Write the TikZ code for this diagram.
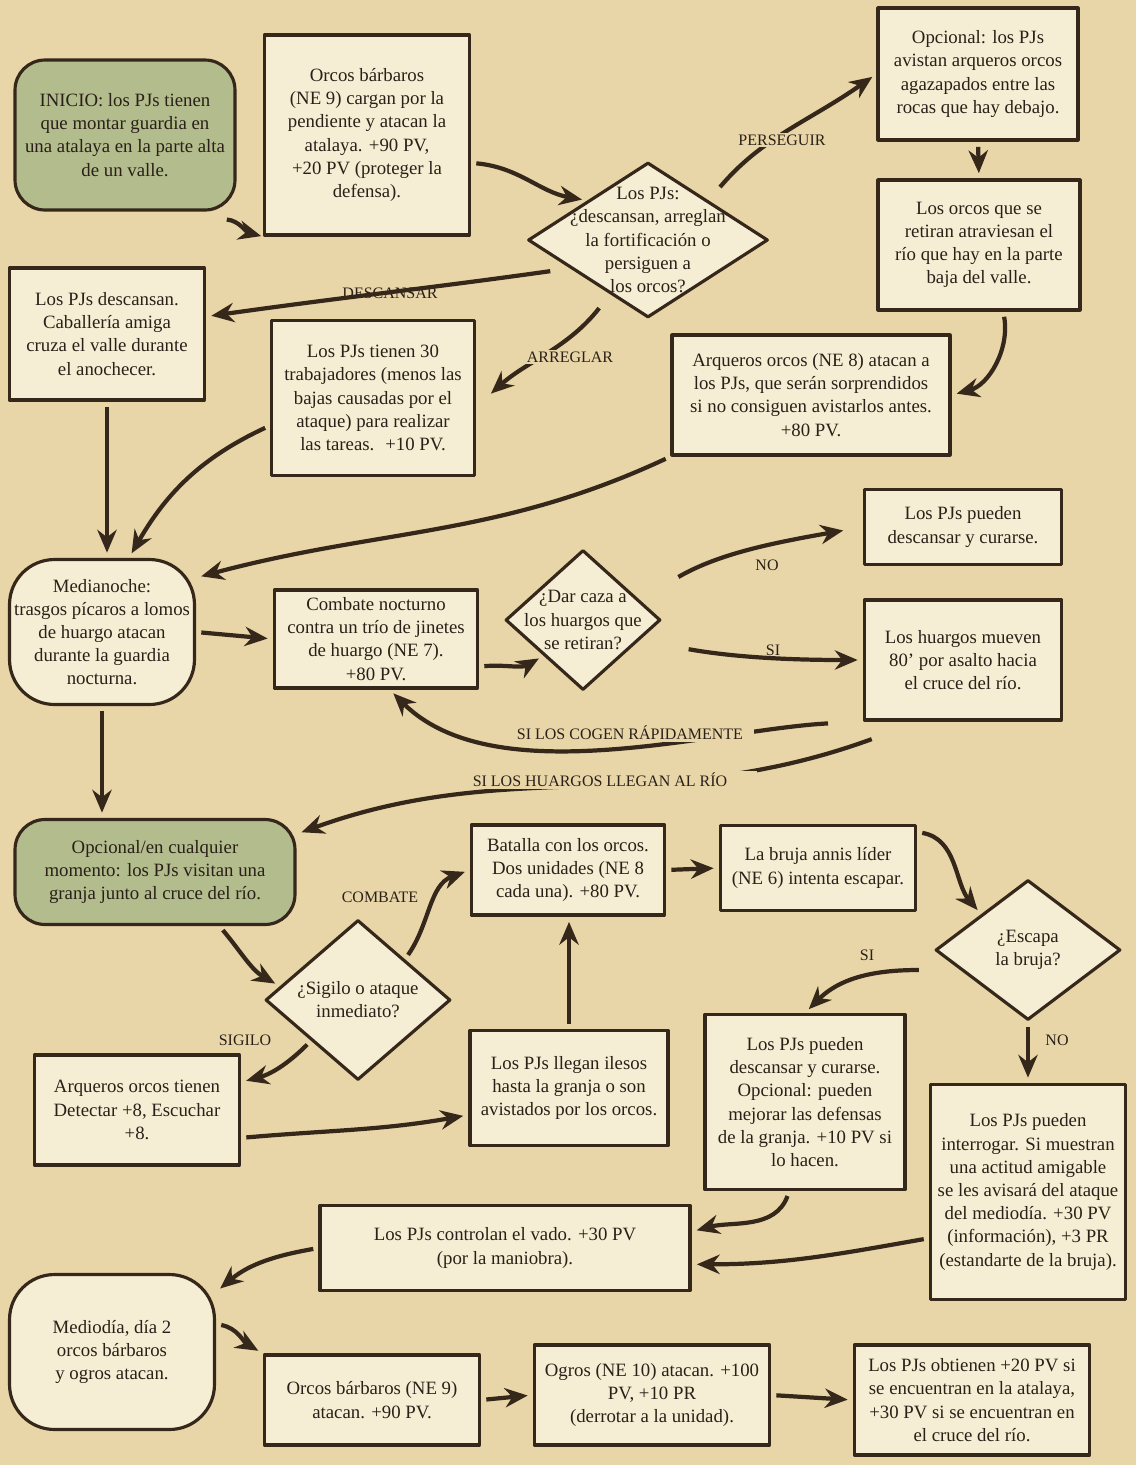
\documentclass[tikz,border=0pt]{standalone}
\usepackage{fontspec}
\setmainfont{Liberation Serif}
\usetikzlibrary{shapes.geometric,arrows.meta}
\definecolor{parch}{HTML}{E8D6A9}
\definecolor{paper}{HTML}{F6EED4}
\definecolor{sage}{HTML}{B3BC8D}
\definecolor{edge}{HTML}{35281B}
\definecolor{ink}{HTML}{2A2018}
\begin{document}
\begin{tikzpicture}[x=0.02cm, y=0.02cm, line join=round,
    every node/.style={font=\fontsize{10.7}{13.2}\selectfont, text=ink},
    box/.style={draw=edge, fill=paper, line width=1.8pt, align=center, inner sep=2pt},
    start/.style={box, fill=sage, rounded corners=0.6cm},
    night/.style={box, rounded corners=0.9cm},
    ask/.style={draw=edge, fill=paper, line width=1.8pt, diamond, inner sep=0pt},
    lbl/.style={font=\fontsize{9.1}{11}\selectfont, align=center},
    cover/.style={lbl, fill=parch, inner xsep=1pt, inner ysep=1pt},
    arr/.style={draw=edge, line width=2.4pt, -{Stealth[length=13pt, width=11pt]}, shorten <=3pt, shorten >=3pt}]
    \path[use as bounding box, fill=parch] (0,0) rectangle (1136,-1465);

    \node[start, minimum width=4.4cm, minimum height=3cm] (inicio) at (125,-135) {INICIO: los PJs tienen\\que montar guardia en\\una atalaya en la parte alta\\de un valle.};
    \node[box, minimum width=4.1cm, minimum height=4cm] (orcos1) at (367,-135) {Orcos bárbaros\\(NE 9) cargan por la\\pendiente y atacan la\\atalaya. +90 PV,\\+20 PV (proteger la\\defensa).};
    \node[ask, minimum width=4.8cm, minimum height=3.1cm, label={[align=center]center:Los PJs:\\¿descansan, arreglan\\la fortificación o\\persiguen a\\los orcos?}] (dec1) at (648,-240) {};
    \node[box, minimum width=4cm, minimum height=2.64cm] (opc1) at (978,-74) {Opcional: los PJs\\avistan arqueros orcos\\agazapados entre las\\rocas que hay debajo.};
    \node[box, minimum width=4.04cm, minimum height=2.6cm] (retiran) at (979,-245) {Los orcos que se\\retiran atraviesan el\\río que hay en la parte\\baja del valle.};
    \node[box, minimum width=5.56cm, minimum height=2.4cm] (arqueros) at (811,-395) {Arqueros orcos (NE 8) atacan a\\los PJs, que serán sorprendidos\\si no consiguen avistarlos antes.\\+80 PV.};
    \node[box, minimum width=4.06cm, minimum height=3.1cm] (tienen30) at (373,-398) {Los PJs tienen 30\\trabajadores (menos las\\bajas causadas por el\\ataque) para realizar\\las tareas. \ +10 PV.};
    \node[box, minimum width=3.9cm, minimum height=2.64cm] (descansan) at (107,-334) {Los PJs descansan.\\Caballería amiga\\cruza el valle durante\\el anochecer.};

    \node[night, minimum width=3.7cm, minimum height=2.9cm] (medianoche) at (102,-632) {Medianoche:\\trasgos pícaros a lomos\\de huargo atacan\\durante la guardia\\nocturna.};
    \node[box, minimum width=4.06cm, minimum height=1.96cm] (combate) at (376,-639) {Combate nocturno\\contra un trío de jinetes\\de huargo (NE 7).\\+80 PV.};
    \node[ask, minimum width=3.1cm, minimum height=2.8cm, label={[align=center]center:¿Dar caza a\\los huargos que\\se retiran?}] (dec2) at (583,-620) {};
    \node[box, minimum width=3.94cm, minimum height=1.5cm] (pueden) at (963,-527) {Los PJs pueden\\descansar y curarse.};
    \node[box, minimum width=3.94cm, minimum height=2.4cm] (huargos) at (963,-660) {Los huargos mueven\\80' por asalto hacia\\el cruce del río.};

    \node[start, minimum width=5.6cm, minimum height=2.1cm] (opcional2) at (155,-872) {Opcional/en cualquier\\momento: los PJs visitan una\\granja junto al cruce del río.};
    \node[ask, minimum width=3.7cm, minimum height=3.2cm, label={[align=center]center:¿Sigilo o ataque\\inmediato?}] (dec3) at (358,-1000) {};
    \node[box, minimum width=3.86cm, minimum height=1.8cm] (batalla) at (568,-870) {Batalla con los orcos.\\Dos unidades (NE 8\\cada una). +80 PV.};
    \node[box, minimum width=3.9cm, minimum height=1.7cm] (bruja) at (818,-868) {La bruja annis líder\\(NE 6) intenta escapar.};
    \node[ask, minimum width=3.7cm, minimum height=2.8cm, label={[align=center]center:¿Escapa\\la bruja?}] (dec4) at (1028,-950) {};
    \node[box, minimum width=4.1cm, minimum height=2.2cm] (arqueros2) at (137,-1110) {Arqueros orcos tienen\\Detectar +8, Escuchar\\+8.};
    \node[box, minimum width=3.96cm, minimum height=2.3cm] (llegan) at (569,-1088) {Los PJs llegan ilesos\\hasta la granja o son\\avistados por los orcos.};
    \node[box, minimum width=4cm, minimum height=3.5cm] (pueden2) at (805,-1102) {Los PJs pueden\\descansar y curarse.\\Opcional: pueden\\mejorar las defensas\\de la granja. +10 PV si\\lo hacen.};
    \node[box, minimum width=3.9cm, minimum height=4.3cm] (interrogar) at (1028,-1192) {Los PJs pueden\\interrogar. Si muestran\\una actitud amigable\\se les avisará del ataque\\del mediodía. +30 PV\\(información), +3 PR\\(estandarte de la bruja).};

    \node[box, minimum width=7.4cm, minimum height=1.7cm] (controlan) at (505,-1248) {Los PJs controlan el vado. +30 PV\\(por la maniobra).};
    \node[night, minimum width=4.1cm, minimum height=3.1cm] (mediodia) at (112,-1352) {Mediodía, día 2\\orcos bárbaros\\y ogros atacan.};
    \node[box, minimum width=4.3cm, minimum height=1.8cm] (orcos2) at (372,-1400) {Orcos bárbaros (NE 9)\\atacan. +90 PV.};
    \node[box, minimum width=4.7cm, minimum height=2cm] (ogros) at (652,-1395) {Ogros (NE 10) atacan. +100\\PV, +10 PR\\(derrotar a la unidad).};
    \node[box, minimum width=4.7cm, minimum height=2.2cm] (obtienen) at (972,-1400) {Los PJs obtienen +20 PV si\\se encuentran en la atalaya,\\+30 PV si se encuentran en\\el cruce del río.};

    \node[lbl] (descansar) at (390,-293) {DESCANSAR};

    \draw[arr, shorten >=1pt] ([shift={(-0.3cm,-0.15cm)}]inicio.south east) to[out=-5, in=165] (orcos1.south west);
    \draw[arr] (orcos1.-15) to[out=-5, in=170] (dec1.north west);
    \draw[arr, shorten <=0.35cm, shorten >=0.1cm] (dec1.north east) to[out=50, in=215] (opc1.west);
    \draw[arr] (opc1.south) -- (retiran.north);
    \draw[arr] (retiran.-70) to[out=-80, in=15] (arqueros.east);
    \draw[arr, shorten <=0.4cm] (dec1.200) to[out=188, in=8] (descansan.10);
    \draw[arr, shorten <=0.35cm, shorten >=0.4cm] (dec1.235) to[out=232, in=42] (tienen30.-5);
    \draw[arr] (descansan.south) -- (descansan.south |- medianoche.north);
    \draw[arr] (tienen30.195) to[out=205, in=60] (medianoche.70);
    \draw[arr] (arqueros.south west) to[out=205, in=15] (medianoche.30);
    \draw[arr] (medianoche.east) -- (combate.west);
    \draw[arr] (combate.-15) to[out=5, in=210] (dec2.south west);
    \draw[arr, shorten <=0.9cm, shorten >=0.4cm] (dec2.20) to[out=30, in=190] (pueden.west);
    \draw[arr, shorten <=1cm] (dec2.-20) to[out=-10, in=180] (huargos.west);
    \draw[arr, shorten <=0.7cm] (huargos.south west) to[out=183, in=-45, looseness=0.8] (combate.-75);
    \draw[arr, shorten <=0pt] ([shift={(5pt,-10pt)}]huargos.south west) to[out=-160, in=20] (opcional2.15);
    \draw[arr] (medianoche.south) -- (medianoche.south |- opcional2.north);
    \draw[arr] (opcional2.-40) to[out=-50, in=150] (dec3.170);
    \draw[arr] (dec3.north east) to[out=55, in=200] (batalla.west);
    \draw[arr] (dec3.south west) to[out=225, in=15] (arqueros2.15);
    \draw[arr] (arqueros2.-15) to[out=5, in=190] (llegan.195);
    \draw[arr] (llegan.north) -- (llegan.north |- batalla.south);
    \draw[arr] (batalla.east) -- (bruja.west);
    \draw[arr] (bruja.20) to[out=-10, in=130] (dec4.north west);
    \draw[arr, shorten <=0.3cm] ([yshift=-0.4cm]dec4.west) to[out=180, in=45] (pueden2.north);
    \draw[arr] (dec4.south) -- (dec4.south |- interrogar.north);
    \draw[arr] (pueden2.-100) to[out=-110, in=15] (controlan.5);
    \draw[arr] (interrogar.205) to[out=190, in=0] (controlan.-5);
    \draw[arr] (controlan.west) to[out=190, in=40] (mediodia.30);
    \draw[arr] (mediodia.15) to[out=-10, in=150] (orcos2.north west);
    \draw[arr] (orcos2.east) -- (ogros.west);
    \draw[arr] (ogros.east) -- (obtienen.west);

    \node[cover] (perseguir) at (782,-140) {PERSEGUIR};
    \node[cover] (arreglar) at (570,-357) {ARREGLAR};
    \node[lbl] (no1) at (767,-565) {NO};
    \node[lbl] (si1) at (773,-650) {SI};
    \node[cover, inner xsep=6pt] (rapido) at (630,-733) {SI LOS COGEN RÁPIDAMENTE};
    \node[cover, inner xsep=0.6cm] (alrio) at (600,-780) {SI LOS HUARGOS LLEGAN AL RÍO};
    \node[lbl] (combatelbl) at (380,-897) {COMBATE};
    \node[lbl] (sigilo) at (245,-1040) {SIGILO};
    \node[lbl] (si2) at (867,-955) {SI};
    \node[lbl] (no2) at (1057,-1040) {NO};
  \end{tikzpicture}
\end{document}
